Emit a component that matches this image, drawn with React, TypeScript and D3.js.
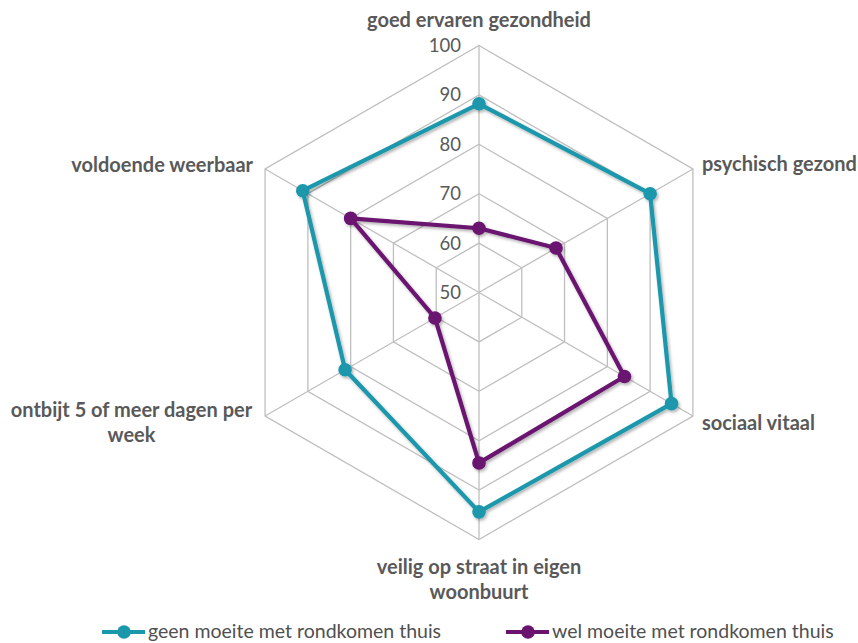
import React from "react";
import * as d3 from "d3";

const categories = [
  "goed ervaren gezondheid",
  "psychisch gezond",
  "sociaal vitaal",
  "veilig op straat in eigen woonbuurt",
  "ontbijt 5 of meer dagen per week",
  "voldoende weerbaar",
];
const categoryLines = [
  ["goed ervaren gezondheid"],
  ["psychisch gezond"],
  ["sociaal vitaal"],
  ["veilig op straat in eigen", "woonbuurt"],
  ["ontbijt 5 of meer dagen per", "week"],
  ["voldoende weerbaar"],
];
const seriesNames = ["geen moeite met rondkomen thuis", "wel moeite met rondkomen thuis"];
const geenMoeite = [88.2, 90, 95, 94.4, 81.3, 91.2];
const welMoeite = [63, 68, 84, 84.5, 60.3, 80];
const tickValues = [50, 60, 70, 80, 90, 100];

const W = 858;
const H = 643;
const cx = 479;
const cy = 292.5;
const R = 247;
const colors = ["#1a97ab", "#6a1470"];
const gridColor = "#bfbfbf";
const textColor = "#595959";
const font = "Lato, 'Open Sans', sans-serif";

export default function App() {
  const r = d3.scaleLinear().domain([50, 100]).range([0, R]);
  const n = categories.length;
  const angle = d3.scaleLinear().domain([0, n]).range([0, 2 * Math.PI]);
  const pt = (i: number, v: number): [number, number] => {
    const a = angle(i);
    return [cx + r(v) * Math.sin(a), cy - r(v) * Math.cos(a)];
  };
  const closedLine = d3.line<[number, number]>().curve(d3.curveLinearClosed);
  const series = [geenMoeite, welMoeite];

  // label anchor config per axis (layout only)
  const labelCfg = [
    { dx: 0, dy: -26, anchor: "middle" },
    { dx: 9, dy: -5, anchor: "start" },
    { dx: 9, dy: 7, anchor: "start" },
    { dx: 0, dy: 27, anchor: "middle" },
    { dx: -133.6, dy: -6, anchor: "middle" },
    { dx: -12, dy: -4, anchor: "end" },
  ];

  const legendX = [102, 506];
  const legendY = 632;

  return (
    <div style={{ position: "fixed", left: 0, top: 0 }}>
      <svg width={W} height={H} style={{ display: "block", background: "#fff" }}>
        <defs>
          <filter id="shadow" x="-10%" y="-10%" width="120%" height="120%">
            <feDropShadow dx="1.5" dy="2" stdDeviation="1.5" floodColor="#000" floodOpacity="0.3" />
          </filter>
        </defs>
        {/* grid rings */}
        {tickValues.slice(1).map((t) => (
          <path
            key={t}
            d={closedLine(d3.range(n).map((i) => pt(i, t))) || ""}
            fill="none"
            stroke={gridColor}
            strokeWidth={1.3}
          />
        ))}
        {/* spokes */}
        {d3.range(n).map((i) => {
          const [x, y] = pt(i, 100);
          return <line key={i} x1={cx} y1={cy} x2={x} y2={y} stroke={gridColor} strokeWidth={1.3} />;
        })}
        {/* tick labels */}
        {tickValues.map((t) => (
          <text
            key={t}
            x={cx - 18}
            y={cy - r(t)}
            dy="0.35em"
            textAnchor="end"
            fontFamily={font}
            fontSize={18.5}
            fill={textColor}
          >
            {t}
          </text>
        ))}
        {/* series */}
        {series.map((vals, s) => {
          const pts = vals.map((v, i) => pt(i, v));
          return (
            <g key={s} filter="url(#shadow)">
              <path d={closedLine(pts) || ""} fill="none" stroke={colors[s]} strokeWidth={4.2} strokeLinejoin="round" />
              {pts.map(([x, y], i) => (
                <circle key={i} cx={x} cy={y} r={6.8} fill={colors[s]} />
              ))}
            </g>
          );
        })}
        {/* category labels */}
        {categories.map((c, i) => {
          const [vx, vy] = pt(i, 100);
          const cfg = labelCfg[i];
          const lines = categoryLines[i];
          return (
            <text
              key={c}
              x={vx + cfg.dx}
              y={vy + cfg.dy}
              textAnchor={cfg.anchor as any}
              fontFamily={font}
              fontWeight={700}
              fontSize={20}
              fill={textColor}
            >
              {lines.map((l, k) => (
                <tspan key={k} x={vx + cfg.dx} dy={k === 0 ? "0.35em" : 25}>
                  {l}
                </tspan>
              ))}
            </text>
          );
        })}
        {/* legend */}
        {seriesNames.map((name, s) => {
          const lx = legendX[s];
          return (
            <g key={name}>
              <line x1={lx} y1={legendY} x2={lx + 43} y2={legendY} stroke={colors[s]} strokeWidth={4.2} />
              <circle cx={lx + 22} cy={legendY} r={6.8} fill={colors[s]} />
              <text x={lx + 46} y={legendY} dy="0.33em" fontFamily={font} fontSize={19.5} fill="#505050">
                {name}
              </text>
            </g>
          );
        })}
      </svg>
    </div>
  );
}
